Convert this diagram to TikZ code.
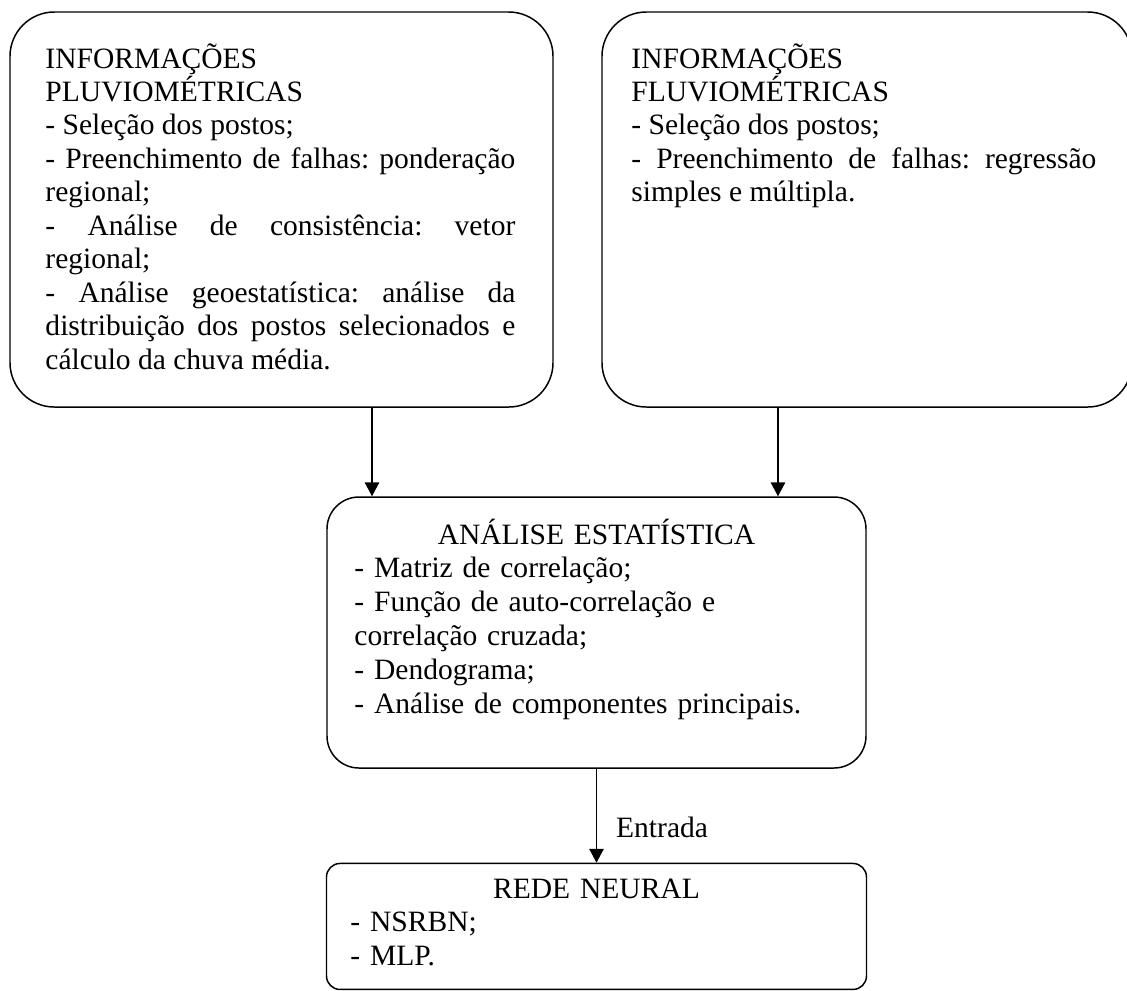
\documentclass[tikz,border=0pt]{standalone}
\usepackage{fontspec}
\setmainfont{Liberation Serif}
\usepackage{tikz}
\usetikzlibrary{positioning,arrows.meta}
\newcommand{\px}{0.4065pt}
\hyphenpenalty=10000
\exhyphenpenalty=10000
\frenchspacing
\tikzset{
    >={Triangle[length=5.6pt,width=5.8pt]},
    caixa/.style={
        rectangle,
        draw=black, line width=0.6pt,
        inner sep=0pt
    },
    texto/.style={
        inner sep=0pt,
        anchor=base west,
        font={\fontsize{12pt}{13.8pt}\selectfont}
    },
    textocima/.style={
        texto,
        font={\fontsize{12pt}{13.6pt}\selectfont},
        align=justify
    },
    seta/.style={draw, line width=0.6pt, ->},
    rotulo/.style={anchor=west, inner sep=0pt, xshift=7.7pt,
        font={\fontsize{12pt}{13.8pt}\selectfont}},
}

\begin{document}
\begin{tikzpicture}[x=\px, y=-\px]
    % page size of the figure
    \useasboundingbox (0,0) rectangle (1127,990);

    % the boxes
    \node[caixa, rounded corners=18pt, minimum width=543*\px,
          minimum height=395*\px] (pluvio) at (281.5,209.5) {};
    \node[caixa, rounded corners=18pt, minimum width=530*\px,
          minimum height=395*\px] (fluvio) at (867,209.5) {};
    \node[caixa, rounded corners=13pt, minimum width=539*\px,
          minimum height=271*\px] (estat) at (596.5,632.5) {};
    \node[caixa, rounded corners=5.5pt, minimum width=540*\px,
          minimum height=126*\px, below=38.2pt of estat] (rede) {};

    % the texts
    \node[textocima, text width=191pt] (pluviotxt) at (45,68)
        {INFORMAÇÕES\\
         PLUVIOMÉTRICAS\\
         - Seleção dos postos;\\
         - Preenchimento de falhas: ponderação\linebreak regional;\\
         - Análise de consistência: vetor\linebreak regional;\\
         - Análise geoestatística: análise da\linebreak
         distribuição dos postos selecionados e\linebreak
         cálculo da chuva média.};
    \node[textocima, text width=189pt] (fluviotxt) at (631,68)
        {INFORMAÇÕES\\
         FLUVIOMÉTRICAS\\
         - Seleção dos postos;\\
         - Preenchimento de falhas: regressão\linebreak simples e múltipla.};
    \node[texto, text width=484*\px, align=left] (estattxt) at (354,544)
        {\makebox[\linewidth]{ANÁLISE ESTATÍSTICA}\\
         - Matriz de correlação;\\
         - Função de auto-correlação e\\
         correlação cruzada;\\
         - Dendograma;\\
         - Análise de componentes principais.};
    \node[texto, text width=492*\px, align=left] (redetxt) at (350,898)
        {\makebox[\linewidth]{REDE NEURAL}\\
         - NSRBN;\\
         - MLP.};

    % the arrows
    \coordinate (e1) at (372,0);
    \coordinate (e2) at (778,0);
    \draw[seta] (pluvio.south -| e1) -- (estat.north -| e1);
    \draw[seta] (fluvio.south -| e2) -- (estat.north -| e2);
    \draw[seta] (estat.south) -- node[rotulo, pos=0.62] (entrada) {Entrada} (rede.north);

\end{tikzpicture}
\end{document}
